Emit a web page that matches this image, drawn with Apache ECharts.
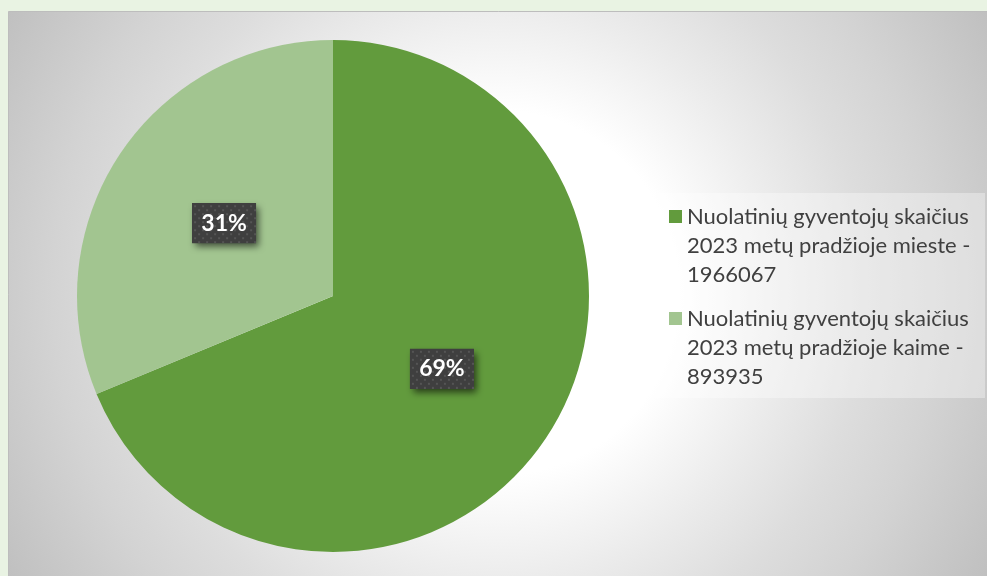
<!DOCTYPE html>
<html>
<head>
<meta charset="utf-8">
<script src="https://cdn.jsdelivr.net/npm/echarts@6/dist/echarts.min.js"></script>
<style>
  html, body { margin: 0; padding: 0; }
  #main { width: 987px; height: 576px; }
</style>
</head>
<body>
<div id="main"></div>
<script>
// duomenys
var names = [
  'Nuolatinių gyventojų skaičius 2023 metų pradžioje mieste - 1966067',
  'Nuolatinių gyventojų skaičius 2023 metų pradžioje kaime - 893935'
];
var values = [1966067, 893935];
var legendText = [
  'Nuolatinių gyventojų skaičius\n2023 metų pradžioje mieste -\n1966067',
  'Nuolatinių gyventojų skaičius\n2023 metų pradžioje kaime -\n893935'
];
var colors = ['#629b3d', '#a2c590'];

// taškuotas etiketės fonas
function dotted(w, h) {
  var c = document.createElement('canvas');
  c.width = w; c.height = h;
  var ctx = c.getContext('2d');
  ctx.fillStyle = '#3f3f3f';
  ctx.fillRect(0, 0, w, h);
  ctx.fillStyle = '#555555';
  for (var y = 0; y < h; y += 8) {
    for (var x = 0; x < w; x += 8) {
      ctx.fillRect(x + 2, y + 2, 2, 2);
      ctx.fillRect(x + 6, y + 6, 2, 2);
    }
  }
  return c;
}

var chart = echarts.init(document.getElementById('main'));

var option = {
  backgroundColor: '#e9f3e3',
  animation: false,
  color: colors,
  graphic: [{
    type: 'rect',
    z: -10,
    silent: true,
    shape: { x: 8.5, y: 11.5, width: 990, height: 580 },
    style: {
      fill: new echarts.graphic.RadialGradient(497, 293, 570, [
        { offset: 0, color: '#ffffff' },
        { offset: 0.32, color: '#ffffff' },
        { offset: 0.5, color: '#ececec' },
        { offset: 0.65, color: '#dddddd' },
        { offset: 0.78, color: '#d3d3d3' },
        { offset: 1, color: '#bfbfbf' }
      ], true),
      stroke: '#bdbdbd',
      lineWidth: 1
    }
  }, {
    // legendos fonas
    type: 'rect',
    z: 1,
    silent: true,
    shape: { x: 655, y: 193, width: 330, height: 205 },
    style: { fill: 'rgba(255,255,255,0.35)' }
  }],
  legend: {
    orient: 'vertical',
    left: 669,
    top: 202,
    padding: 0,
    itemWidth: 13,
    itemHeight: 87,
    itemGap: 15,
    selectedMode: false,
    icon: 'path://M0,0L0,0M0,8L13,8L13,21L0,21ZM0,87L0,87',
    formatter: function (name) {
      return legendText[names.indexOf(name)];
    },
    textStyle: {
      fontFamily: 'Lato',
      fontSize: 22,
      lineHeight: 29,
      color: '#404040'
    }
  },
  series: [{
    type: 'pie',
    center: [333, 296],
    radius: 256,
    startAngle: 90,
    silent: true,
    percentPrecision: 0,
    itemStyle: { borderWidth: 0 },
    label: {
      show: true,
      position: 'inside',
      formatter: '{p|{d}%}',
      backgroundColor: '#404040',
      padding: 0,
      shadowColor: 'rgba(0,0,0,0.6)',
      shadowBlur: 7,
      shadowOffsetX: 3,
      shadowOffsetY: 4,
      rich: {
        p: {
          fontFamily: 'Lato',
          fontSize: 23,
          fontWeight: 'bold',
          color: '#ffffff',
          width: 64,
          height: 40,
          lineHeight: 40,
          align: 'center',
          backgroundColor: { image: dotted(64, 40) }
        }
      }
    },
    labelLine: { show: false },
    data: names.map(function (n, i) {
      return { name: n, value: values[i] };
    })
  }]
};

chart.setOption(option);
</script>
</body>
</html>
